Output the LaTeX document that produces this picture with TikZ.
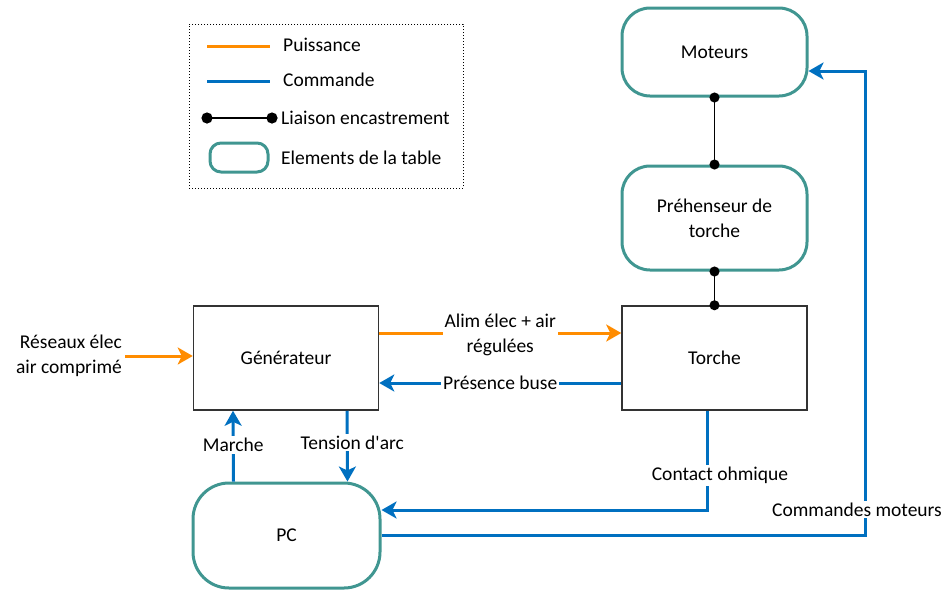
\documentclass[tikz,border=0pt]{standalone}
\usepackage{fontspec}
\setmainfont{Carlito}
\usetikzlibrary{positioning}
\usetikzlibrary{arrows.meta}
\definecolor{puissorange}{RGB}{255,140,0}
\definecolor{cmdblue}{RGB}{0,112,192}
\definecolor{tableteal}{RGB}{64,150,145}
\tikzset{
    bloc/.style = {rectangle, draw=black!80, line width=1.5pt, minimum width=185pt, minimum height=104pt, align=center},
    elem/.style = {rectangle, rounded corners=28pt, draw=tableteal, line width=3pt, minimum width=185pt, minimum height=88pt, align=center},
    lbl/.style = {fill=white, text=black, inner sep=2pt, align=center},
    puiss/.style = {-{Stealth[length=15pt,width=17pt,inset=4pt]}, line width=3pt, puissorange},
    cmd/.style = {-{Stealth[length=15pt,width=17pt,inset=4pt]}, line width=3pt, cmdblue},
    liaison/.style = {{Circle[length=10pt]}-{Circle[length=10pt]}, line width=1.5pt, black, shorten >=-5pt, shorten <=-5pt}
}

\begin{document}
\begin{tikzpicture}[x=1pt, y=-1pt, font=\fontsize{19.5}{25}\selectfont]
  \useasboundingbox (0,0) rectangle (948,590);

  % legende
  \node (legende) at (326,106) [draw, dotted, line width=1pt, minimum width=274pt, minimum height=164pt] {};
  \draw[line width=3pt, puissorange] (207,46) -- (270,46);
  \node at (283,45) [anchor=west, inner sep=0pt] {Puissance};
  \draw[line width=3pt, cmdblue] (207,81) -- (270,81);
  \node at (283,80) [anchor=west, inner sep=0pt] {Commande};
  \draw[{Circle[length=11pt]}-{Circle[length=11pt]}, line width=2.5pt] (201.5,118) -- (277.5,118);
  \node at (281,118) [anchor=west, inner sep=0pt] {Liaison encastrement};
  \draw[tableteal, line width=3pt, rounded corners=11pt] (210,143) rectangle (268,172);
  \node at (281,158) [anchor=west, inner sep=0pt] {Elements de la table};

  % blocs
  \node (moteurs) at (714.5,52) [elem] {Moteurs};
  \node (prehen) at (714.5,218) [elem, minimum height=104pt] {Préhenseur de\\torche};
  \node (torche) at (714.5,358) [bloc] {Torche};
  \node (gen) at (286,358) [bloc] {Générateur};
  \node (pc) at (286.5,535.5) [elem, rounded corners=36pt, minimum width=187pt, minimum height=105pt] {PC};
  \node (reseaux) at (123,356) [anchor=east, align=right, inner sep=1pt] {Réseaux élec\\air comprimé};
  \coordinate (coin) at (865,71);

  % liaisons
  \draw[liaison] (moteurs.south) -- (prehen.north);
  \draw[liaison] (prehen.south) -- (torche.north);

  % puissance
  \draw[puiss] ([xshift=2pt]reseaux.east) -- (gen.west |- reseaux.east);
  \draw[puiss] ([yshift=25pt]gen.east) -- node[lbl, yshift=-2pt] {Alim élec + air\\régulées} ([yshift=25pt]torche.west);

  % commande
  \draw[cmd] ([yshift=-25pt]torche.west) -- node[lbl] {Présence buse} ([yshift=-25pt]gen.east);
  \draw[cmd] ([xshift=-53pt]pc.north) -- node[lbl, yshift=1pt] {Marche} ([xshift=-53pt]gen.south);
  \draw[cmd] ([xshift=61pt]gen.south) -- node[lbl, pos=0.45, xshift=5pt] {Tension d\textquotesingle arc} ([xshift=61pt]pc.north);
  \draw[cmd] ([xshift=-7.5pt]torche.south) |- node[lbl, pos=0.325, xshift=13pt] {Contact ohmique} ([yshift=25.5pt]pc.east);
  \draw[cmd] (pc.east) -| node[lbl, pos=0.528, xshift=-8pt] {Commandes moteurs} (coin) -- ([yshift=-19pt]moteurs.east);
\end{tikzpicture}
\end{document}
